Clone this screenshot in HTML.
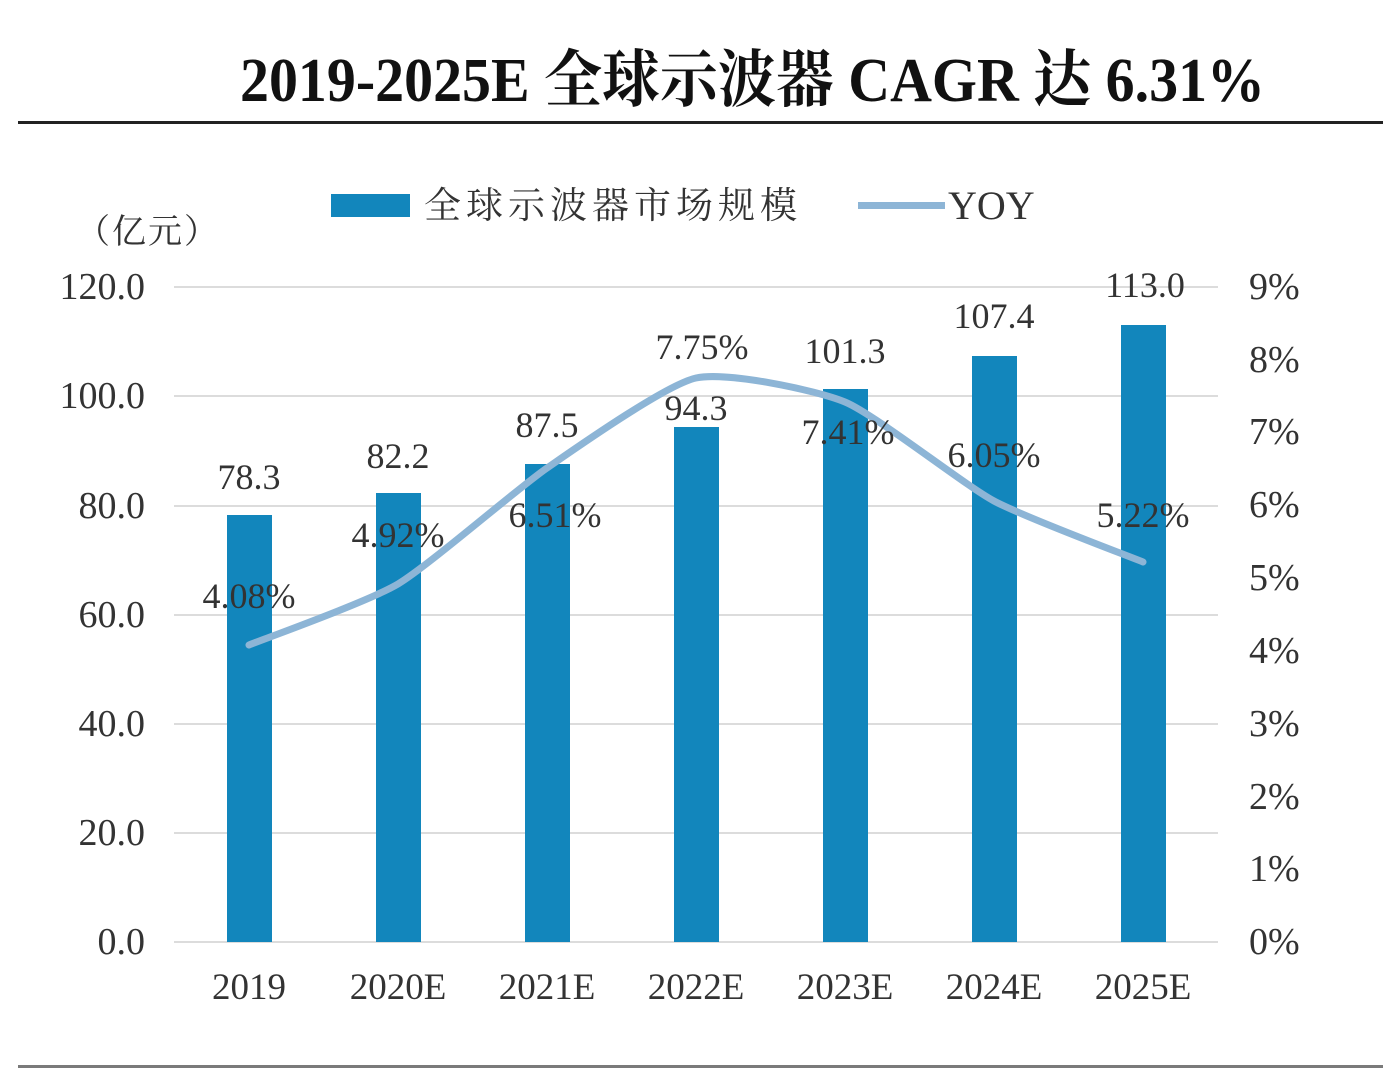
<!DOCTYPE html>
<html><head><meta charset="utf-8"><style>
html,body{margin:0;padding:0;background:#fff;}
svg{display:block;}
</style></head><body>
<svg width="1399" height="1071" viewBox="0 0 1399 1071" xmlns="http://www.w3.org/2000/svg">
<rect width="1399" height="1071" fill="#fff"/>
<!-- title -->
<g transform="translate(0,101) scale(1,1.08) translate(0,-101)">
<text x="240" y="101" font-family="'Liberation Serif','Noto Serif CJK SC',serif" font-weight="700" font-size="58" fill="#111" textLength="1025" lengthAdjust="spacingAndGlyphs">2019-2025E 全球示波器 CAGR 达 6.31%</text>
</g>
<rect x="18" y="121" width="1365" height="3" fill="#222"/>
<rect x="18" y="1065" width="1365" height="3" fill="#7a7a7a"/>

<!-- legend -->
<rect x="331" y="194" width="79" height="23" fill="#1286bc"/>
<text x="424" y="218" font-family="'Noto Serif CJK SC','Liberation Serif',serif" font-size="37" fill="#333" letter-spacing="5">全球示波器市场规模</text>
<rect x="858" y="202" width="87" height="7" fill="#8db5d6"/>
<text x="948" y="219" font-family="'Liberation Serif',serif" font-size="40" fill="#333">YOY</text>
<text x="76" y="243" font-family="'Liberation Serif','Noto Serif CJK SC',serif" font-size="34" fill="#333" letter-spacing="2">（亿元）</text>

<!-- gridlines -->
<g stroke="#dcdcdc" stroke-width="2">
<line x1="174" y1="287" x2="1218" y2="287"/>
<line x1="174" y1="396" x2="1218" y2="396"/>
<line x1="174" y1="506" x2="1218" y2="506"/>
<line x1="174" y1="615" x2="1218" y2="615"/>
<line x1="174" y1="724" x2="1218" y2="724"/>
<line x1="174" y1="833" x2="1218" y2="833"/>
<line x1="174" y1="942" x2="1218" y2="942"/>
</g>

<!-- left axis labels -->
<g font-family="'Liberation Serif',serif" font-size="38" fill="#333" text-anchor="end">
<text x="145" y="299">120.0</text>
<text x="145" y="408">100.0</text>
<text x="145" y="518">80.0</text>
<text x="145" y="627">60.0</text>
<text x="145" y="736">40.0</text>
<text x="145" y="845">20.0</text>
<text x="145" y="954">0.0</text>
</g>
<!-- right axis labels -->
<g font-family="'Liberation Serif',serif" font-size="38" fill="#333">
<text x="1249" y="299">9%</text>
<text x="1249" y="372">8%</text>
<text x="1249" y="444">7%</text>
<text x="1249" y="517">6%</text>
<text x="1249" y="590">5%</text>
<text x="1249" y="663">4%</text>
<text x="1249" y="736">3%</text>
<text x="1249" y="809">2%</text>
<text x="1249" y="881">1%</text>
<text x="1249" y="954">0%</text>
</g>

<!-- bars -->
<g fill="#1286bc">
<rect x="227" y="515" width="45" height="427"/>
<rect x="376" y="493" width="45" height="449"/>
<rect x="525" y="464" width="45" height="478"/>
<rect x="674" y="427" width="45" height="515"/>
<rect x="823" y="389" width="45" height="553"/>
<rect x="972" y="356" width="45" height="586"/>
<rect x="1121" y="325" width="45" height="617"/>
</g>

<!-- YOY line -->
<path d="M249,645 C263.9,638.9 368.2,601.7 398,584 C427.8,566.3 517.2,488.6 547,468 C576.8,447.4 666.2,384.6 696,378 C725.8,371.4 815.2,389.7 845,402 C874.8,414.3 964.2,485 994,501 C1023.8,517 1128.1,555.9 1143,562" fill="none" stroke="#8db5d6" stroke-width="7" stroke-linecap="round" stroke-linejoin="round"/>

<!-- x labels -->
<g font-family="'Liberation Serif',serif" font-size="37" fill="#333" text-anchor="middle">
<text x="249" y="999">2019</text>
<text x="398" y="999">2020E</text>
<text x="547" y="999">2021E</text>
<text x="696" y="999">2022E</text>
<text x="845" y="999">2023E</text>
<text x="994" y="999">2024E</text>
<text x="1143" y="999">2025E</text>
</g>

<!-- bar value labels -->
<g font-family="'Liberation Serif',serif" font-size="36" fill="#333" text-anchor="middle">
<text x="249" y="489">78.3</text>
<text x="398" y="468">82.2</text>
<text x="547" y="437">87.5</text>
<text x="696" y="420">94.3</text>
<text x="845" y="363">101.3</text>
<text x="994" y="328">107.4</text>
<text x="1145" y="297">113.0</text>
</g>

<!-- YOY labels -->
<g font-family="'Liberation Serif',serif" font-size="36" fill="#333" text-anchor="middle">
<text x="249" y="608">4.08%</text>
<text x="398" y="547">4.92%</text>
<text x="555" y="527">6.51%</text>
<text x="702" y="359">7.75%</text>
<text x="848" y="444">7.41%</text>
<text x="994" y="467">6.05%</text>
<text x="1143" y="527">5.22%</text>
</g>
</svg>
</body></html>
